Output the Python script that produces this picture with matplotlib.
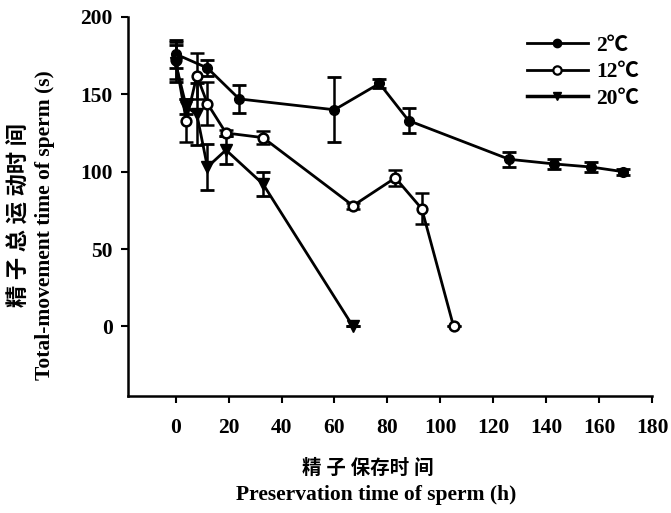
import matplotlib.pyplot as plt
from matplotlib.lines import Line2D

plt.rcParams['font.family'] = ['Liberation Serif', 'Noto Sans CJK SC']
plt.rcParams['font.weight'] = 'bold'

# preservation time (h), total-movement time (s), error
t2 = [0, 12, 24, 60, 77, 88, 126, 143, 157, 169]
v2 = [176, 167, 147, 140, 157, 133, 108, 105, 103, 100]
e2 = [9, 5, 9, 21, 3, 8, 5, 3, 3, 2]

t12 = [0, 4, 8, 12, 19, 33, 67, 83, 93, 105]
v12 = [172, 133, 162, 144, 125, 122, 78, 96, 76, 0]
e12 = [12, 14, 15, 14, 2, 4, 2, 5, 10, 0]

t20 = [0, 4, 8, 12, 19, 33, 67]
v20 = [170, 142, 137, 103, 114, 92, 0]
e20 = [12, 5, 20, 15, 9, 8, 0]

labels = ['2℃', '12℃', '20℃']
xticks = [0, 20, 40, 60, 80, 100, 120, 140, 160, 180]
yticks = [0, 50, 100, 150, 200]

fig = plt.figure(figsize=(6.71, 5.13), dpi=100)
ax = fig.add_axes([0.1908, 0.228, 0.781, 0.739])

common = dict(color='black', lw=2, elinewidth=1.8, capsize=5, capthick=2)
ax.errorbar(t2, v2, yerr=e2, marker='o', ms=7, mfc='black', mec='black', **common)
ax.errorbar(t12, v12, yerr=e12, marker='o', ms=7, mfc='white', mec='black',
            mew=1.8, **common)
ax.errorbar(t20, v20, yerr=e20, marker='v', ms=8, mfc='black', mec='black', **common)

ax.set_xlim(-18, 180)
ax.set_ylim(-45, 200)
ax.set_xticks(xticks)
ax.set_yticks(yticks)

for s in ['top', 'right']:
    ax.spines[s].set_visible(False)
for s in ['left', 'bottom']:
    ax.spines[s].set_linewidth(1.8)

ax.tick_params(axis='x', direction='out', length=5, width=1.5, pad=11, labelsize=15.5)
ax.tick_params(axis='y', direction='out', length=5, width=1.5, pad=6, labelsize=15.5)

# axis titles, Chinese line above English line
fig.text(0.548, 1 - 468 / 513, '精 子 保存时 间', ha='center', va='center',
         fontsize=14, fontweight='bold')
fig.text(0.56, 1 - 495 / 513, 'Preservation time of sperm (h)', ha='center',
         va='center', fontsize=15.5, fontweight='bold')
fig.text(20 / 671, 1 - 215 / 513, '精 子 总 运 动时 间', ha='center', va='center',
         rotation=90, fontsize=16, fontweight='bold')
fig.text(45 / 671, 1 - 225 / 513, 'Total-movement time of sperm (s)', ha='center',
         va='center', rotation=90, fontsize=15.5, fontweight='bold')

handles = [
    Line2D([], [], color='black', lw=2, marker='o', ms=6, mfc='black'),
    Line2D([], [], color='black', lw=2, marker='o', ms=6, mfc='white', mew=1.6),
    Line2D([], [], color='black', lw=2.5, marker='v', ms=6, mfc='black'),
]
ax.legend(handles, labels, loc='upper right', bbox_to_anchor=(1.0, 0.985),
          frameon=False, fontsize=15.5, handlelength=2.8, handletextpad=0.4,
          labelspacing=0.3, borderaxespad=0.2)

fig.savefig('out.png', dpi=100)
